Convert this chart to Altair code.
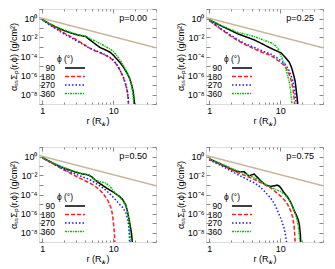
import altair as alt
import pandas as pd

PHI = ["90", "180", "270", "360"]
COLORS = ["#000000", "#ff2020", "#1a1aff", "#00c400"]
DASHES = [[1, 0], [4, 2], [1.5, 2], [2, 1, 1, 1]]
P_LABELS = ["p=0.00", "p=0.25", "p=0.50", "p=0.75"]
LEGEND_TITLE = "ϕ (°)"

TAN_R = [0.9, 40]
TAN_SIGMA = [1.25, 8.5e-4]

X_MAJOR = [1, 10]
X_MINOR = [2, 3, 4, 5, 6, 7, 8, 9, 20, 30, 40]
Y_DECADES = [10, 1, 1e-1, 1e-2, 1e-3, 1e-4, 1e-5, 1e-6, 1e-7, 1e-8, 1e-9]

# ---- p = 0.00 : radius (R*) and log10 of sigma ----
R_P0 = {
    "90": [1.0, 1.25, 1.5, 2.0, 2.6, 3.2, 3.6, 4.1, 4.6, 5.5, 6.5, 8.0, 9.0, 10, 11, 12.5, 14, 15.5, 17, 18.2, 19.2, 19.7, 19.9],
    "180": [1.0, 1.25, 1.5, 2.0, 2.65, 3.3, 4.0, 4.6, 5.5, 6.5, 7.9, 9.0, 10, 11, 12, 13, 14, 15, 15.8, 16.2, 16.4],
    "270": [1.0, 1.25, 1.5, 2.0, 2.65, 3.3, 4.0, 4.6, 5.5, 6.5, 7.9, 9.0, 10, 11, 12, 13, 14, 15, 15.8, 16.3, 16.5],
    "360": [1.0, 1.25, 1.5, 2.0, 2.6, 3.2, 4.0, 5.0, 6.0, 7.0, 8.0, 9.0, 10, 11, 12.5, 14, 15.5, 17, 18, 18.8, 19.3, 19.5],
}
LS_P0 = {
    "90": [-0.12, -0.55, -0.85, -1.25, -1.55, -1.75, -1.82, -1.9, -2.2, -2.65, -3.05, -3.35, -3.55, -3.85, -4.2, -4.65, -5.15, -5.7, -6.3, -7.0, -7.8, -8.6, -9.3],
    "180": [-0.12, -0.6, -0.95, -1.5, -2.0, -2.4, -2.8, -3.1, -3.4, -3.6, -3.9, -4.15, -4.4, -4.8, -5.25, -5.75, -6.3, -7.0, -7.7, -8.4, -9.3],
    "270": [-0.15, -0.65, -1.0, -1.6, -2.1, -2.5, -2.85, -3.1, -3.35, -3.55, -3.85, -4.1, -4.35, -4.75, -5.2, -5.7, -6.25, -6.95, -7.65, -8.4, -9.3],
    "360": [-0.12, -0.5, -0.8, -1.2, -1.5, -1.7, -1.85, -2.2, -2.5, -2.75, -3.0, -3.2, -3.45, -3.8, -4.4, -5.0, -5.6, -6.3, -7.0, -7.8, -8.6, -9.3],
}

# ---- p = 0.25 ----
R_P1 = {
    "90": [1.0, 1.5, 2.0, 2.5, 3.2, 4.3, 5.5, 7.0, 8.5, 10.2, 11.5, 13.4, 14.5, 15.5, 16.2, 16.7, 17.2, 17.6, 17.8],
    "180": [1.0, 1.44, 2.0, 2.5, 3.2, 4.3, 5.5, 7.4, 9.0, 11.4, 13.0, 14.5, 15.3, 15.8, 16.0],
    "270": [1.0, 1.44, 2.0, 2.5, 3.2, 4.3, 5.5, 7.4, 9.0, 11.4, 13.0, 14.8, 15.8, 16.5, 16.8],
    "360": [1.0, 1.5, 2.0, 2.5, 3.2, 4.3, 5.5, 6.5, 7.4, 8.0, 8.7, 9.5, 10.2, 11, 12, 13.4, 14.0, 14.5, 14.7],
}
LS_P1 = {
    "90": [-0.15, -0.8, -1.25, -1.6, -1.9, -2.25, -2.65, -3.05, -3.35, -3.6, -4.0, -4.6, -5.2, -6.0, -6.6, -7.4, -8.2, -9.0, -9.3],
    "180": [-0.2, -1.1, -1.85, -2.3, -2.75, -3.2, -3.55, -3.9, -4.35, -4.95, -5.6, -6.7, -7.7, -8.7, -9.3],
    "270": [-0.2, -1.05, -1.75, -2.2, -2.65, -3.05, -3.4, -3.75, -4.15, -4.7, -5.3, -6.4, -7.4, -8.5, -9.3],
    "360": [-0.15, -0.75, -1.15, -1.45, -1.65, -1.9, -2.2, -2.4, -2.55, -2.7, -2.9, -3.3, -3.9, -4.5, -5.3, -6.7, -7.6, -8.6, -9.3],
}

# ---- p = 0.50 ----
R_P2 = {
    "90": [1.0, 1.54, 2.0, 2.65, 3.3, 3.7, 4.2, 4.6, 5.0, 5.6, 6.5, 7.9, 9.0, 10.3, 12, 13.5, 15, 16, 17.2, 18.0, 18.4, 18.6],
    "180": [1.0, 1.54, 2.0, 2.65, 3.3, 4.57, 5.5, 6.3, 7.2, 7.9, 8.5, 9.27, 9.7, 10.0, 10.3, 10.5, 10.6],
    "270": [1.0, 1.54, 2.0, 2.65, 3.3, 4.57, 5.5, 6.5, 7.9, 9.3, 10.9, 12, 13.5, 15, 16, 16.6, 16.9, 17.0],
    "360": [1.0, 1.54, 2.0, 2.65, 3.3, 4.0, 4.6, 5.7, 6.5, 7.9, 9.3, 10.9, 12, 13.5, 15, 16, 17.0, 17.3, 17.4],
}
LS_P2 = {
    "90": [-0.12, -0.83, -1.2, -1.53, -1.75, -1.85, -1.9, -1.98, -2.15, -2.5, -2.85, -3.28, -3.55, -3.81, -4.15, -4.51, -5.1, -5.91, -7.14, -8.0, -8.7, -9.3],
    "180": [-0.15, -0.9, -1.4, -1.88, -2.25, -2.76, -3.1, -3.46, -3.9, -4.33, -4.7, -5.39, -6.0, -6.79, -7.8, -8.7, -9.3],
    "270": [-0.15, -0.9, -1.35, -1.7, -2.0, -2.4, -2.75, -3.1, -3.55, -4.05, -4.6, -4.95, -5.35, -5.9, -6.6, -7.5, -8.5, -9.3],
    "360": [-0.12, -0.8, -1.15, -1.5, -1.7, -1.85, -2.0, -2.55, -2.65, -2.8, -3.3, -3.95, -4.2, -4.6, -5.2, -5.95, -7.2, -8.5, -9.3],
}

# ---- p = 0.75 ----
R_P3 = {
    "90": [1.0, 1.5, 2.0, 2.5, 3.1, 3.6, 4.3, 5.3, 6.2, 7.2, 8.2, 9.0, 9.8, 10.5, 11.4, 12.8, 14.2, 15.5, 16.7, 17.8, 18.6, 19.2, 19.5],
    "180": [1.0, 1.5, 2.0, 2.48, 3.2, 4.28, 5.5, 7.36, 8.5, 10.2, 11.5, 12.7, 14.0, 15.0, 15.7, 16.1, 16.3],
    "270": [1.0, 1.5, 2.0, 2.48, 3.2, 4.28, 5.0, 5.93, 6.8, 7.36, 8.3, 9.4, 10.4, 11.4, 12.0, 12.4],
    "360": [1.0, 1.5, 2.0, 2.48, 3.2, 4.28, 5.5, 7.36, 8.5, 10.2, 11.5, 12.7, 14.0, 15, 16.7, 17.8, 18.6, 19.0],
}
LS_P3 = {
    "90": [-0.25, -0.85, -1.3, -1.6, -1.6, -2.05, -1.85, -2.55, -3.0, -3.15, -3.1, -3.0, -3.15, -3.45, -3.85, -4.3, -4.9, -5.6, -6.1, -6.6, -7.2, -8.2, -9.3],
    "180": [-0.3, -0.9, -1.35, -1.7, -2.0, -2.4, -2.8, -3.3, -3.7, -4.2, -4.6, -5.05, -5.7, -6.4, -7.4, -8.5, -9.3],
    "270": [-0.35, -1.0, -1.5, -1.88, -2.3, -2.76, -3.1, -3.63, -4.1, -4.4, -5.0, -5.9, -6.7, -7.6, -8.5, -9.3],
    "360": [-0.25, -0.8, -1.2, -1.5, -1.8, -2.2, -2.7, -3.25, -3.45, -3.7, -4.0, -4.35, -4.8, -5.3, -6.3, -7.2, -8.4, -9.3],
}

PANELS = [(R_P0, LS_P0), (R_P1, LS_P1), (R_P2, LS_P2), (R_P3, LS_P3)]

W, H = 117, 95
FONT = "Liberation Sans"
SUP = {"0": "⁰", "-2": "⁻²", "-4": "⁻⁴", "-6": "⁻⁶", "-8": "⁻⁸"}
ylab_expr = "".join(
    f"round(log(datum.value)/LN10)=={k}?'10{v}':" for k, v in SUP.items()
) + "''"

xs = alt.Scale(type="log", domain=[0.9, 40], nice=False)
ys = alt.Scale(type="log", domain=[1e-9, 10], nice=False)
cs = alt.Scale(domain=PHI, range=COLORS)
ds = alt.Scale(domain=PHI, range=DASHES)
tan_df = pd.DataFrame({"r": TAN_R, "sigma": TAN_SIGMA})
leg_df = pd.DataFrame({"phi": PHI})
leg_y = alt.Y("phi:N", sort=PHI, axis=None,
              scale=alt.Scale(type="point", domain=PHI, range=[59, 84.5], padding=0))


def make_df(rd, sd):
    rows = []
    for phi in PHI:
        for k, (r, s) in enumerate(zip(rd[phi], sd[phi])):
            rows.append({"r": r, "sigma": 10 ** s, "phi": phi, "k": k})
    return pd.DataFrame(rows)


def hidden_axis_layer(xaxis):
    return alt.Chart(tan_df).mark_line(opacity=0).encode(
        x=alt.X("r:Q", scale=xs, axis=xaxis),
        y=alt.Y("sigma:Q", scale=ys, axis=None),
    )


def panel(i):
    rd, sd = PANELS[i]
    df = make_df(rd, sd)
    curves = alt.Chart(df).mark_line(clip=True, strokeWidth=1.5).encode(
        x=alt.X("r:Q", scale=xs, axis=alt.Axis(
            values=X_MAJOR, labelExpr="format(datum.value, 'd')", title="r (R⁎)",
            offset=-4, tickSize=4, domain=False, grid=False, labelPadding=2,
            titlePadding=1, labelFontSize=9, titleFontSize=9, titleFontWeight="normal",
            labelFont=FONT, titleFont=FONT, labelFlush=False)),
        y=alt.Y("sigma:Q", scale=ys, axis=alt.Axis(
            values=Y_DECADES, labelExpr=ylab_expr, title="αₛₛΣₚ(r,ϕ) (g/cm²)",
            offset=-4, tickSize=4, domain=False, grid=False, labelPadding=2,
            titlePadding=2, labelFontSize=9, titleFontSize=9, titleFontWeight="normal",
            labelFont=FONT, titleFont=FONT, labelFlush=False)),
        color=alt.Color("phi:N", scale=cs, legend=None),
        strokeDash=alt.StrokeDash("phi:N", scale=ds, legend=None),
        order="k:Q",
    )
    tan = alt.Chart(tan_df).mark_line(clip=True, color="#c8b59b", strokeWidth=1.5).encode(
        x=alt.X("r:Q", scale=xs, axis=alt.Axis(
            orient="top", values=X_MAJOR, labels=False, title=None, offset=-4,
            tickSize=4, domain=False, grid=False)),
        y=alt.Y("sigma:Q", scale=ys, axis=alt.Axis(
            orient="right", values=Y_DECADES, labels=False, title=None, offset=-4,
            tickSize=4, domain=False, grid=False)),
    )
    minor_bottom = hidden_axis_layer(
        alt.Axis(values=X_MINOR, labels=False, title=None, offset=-2, tickSize=2,
                 domain=False, grid=False))
    minor_top = hidden_axis_layer(
        alt.Axis(orient="top", values=X_MINOR, labels=False, title=None, offset=-2,
                 tickSize=2, domain=False, grid=False))
    ptxt = alt.Chart(pd.DataFrame({"t": [P_LABELS[i]]})).mark_text(
        align="right", baseline="middle", fontSize=9, font=FONT, color="black"
    ).encode(x=alt.value(W - 9), y=alt.value(9), text="t:N")
    # legend (gnuplot style: label, then line sample)
    leg_lines = alt.Chart(leg_df).mark_rule(strokeWidth=1.5).encode(
        x=alt.value(26), x2=alt.value(46), y=leg_y,
        color=alt.Color("phi:N", scale=cs, legend=None),
        strokeDash=alt.StrokeDash("phi:N", scale=ds, legend=None),
    )
    leg_text = alt.Chart(leg_df).mark_text(
        align="right", baseline="middle", fontSize=8.5, font=FONT, color="black"
    ).encode(x=alt.value(16), y=leg_y, text="phi:N")
    leg_title = alt.Chart(pd.DataFrame({"t": [LEGEND_TITLE]})).mark_text(
        align="center", baseline="middle", fontSize=8.5, font=FONT, color="black"
    ).encode(x=alt.value(26), y=alt.value(50), text="t:N")
    return alt.layer(
        tan, curves, minor_bottom, minor_top, ptxt, leg_lines, leg_text, leg_title
    ).resolve_axis(x="independent", y="independent").resolve_scale(
        y="independent"
    ).properties(width=W, height=H)


row1 = alt.hconcat(panel(0), panel(1), spacing=18)
row2 = alt.hconcat(panel(2), panel(3), spacing=18)
chart = alt.vconcat(row1, row2, spacing=20).properties(
    padding={"left": 0, "top": 0, "right": 0, "bottom": 0}
).configure_view(stroke="black", strokeWidth=1).configure(background="white")

chart.save("out.html", embed_options={"renderer": "svg", "actions": False})
